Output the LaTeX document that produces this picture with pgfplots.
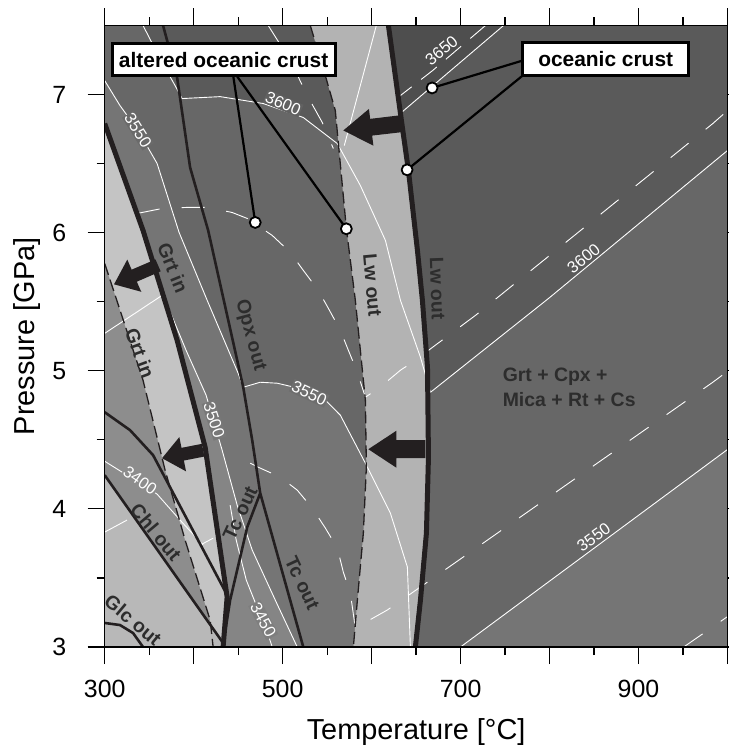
\documentclass[border=0pt]{standalone}
\usepackage{fontspec}
\setmainfont{Liberation Sans}
\usepackage{pgfplots}
\pgfplotsset{compat=1.18}

\definecolor{basegray}{HTML}{858585}
\definecolor{medgray}{HTML}{8D8D8D}
\definecolor{grtband}{HTML}{C4C4C4}
\definecolor{lowleft}{HTML}{B8B8B8}
\definecolor{lwband}{HTML}{B3B3B3}
\definecolor{inkline}{HTML}{231F20}
\definecolor{labelink}{HTML}{2D2D2D}

\newcommand{\cfont}{\fontsize{16.5}{18}\selectfont}
\newcommand{\pfont}{\bfseries\fontsize{19.5}{23}\selectfont}

\begin{document}
\begin{tikzpicture}
\useasboundingbox (-104.7bp,-102bp) rectangle (624.3bp,647bp);
\begin{axis}[
  at={(0,0)}, anchor=south west,
  scale only axis, width=622.8bp, height=621.5bp,
  xmin=300, xmax=1000, ymin=3, ymax=7.5,
  axis on top,
  axis line style={line width=1.3bp, black},
  tick align=outside,
  major tick length=17bp, minor tick length=8bp,
  tick style={line width=1.2bp, black},
  xtick={300,400,...,1000},
  xticklabels={300,,500,,700,,900,},
  minor xtick={350,450,...,950},
  ytick={3,4,5,6,7},
  minor ytick={3.5,4.5,5.5,6.5},
  /pgf/number format/assume math mode=true,
  tick label style={font=\fontsize{25}{28}\selectfont},
  xticklabel style={yshift=-13bp},
  yticklabel style={xshift=-18bp},
  xlabel={Temperature [°C]},
  ylabel={Pressure [GPa]},
  label style={font=\fontsize{29}{33}\selectfont},
  xlabel style={at={(axis description cs:0.5,-0.137)}, anchor=center},
  ylabel style={at={(axis description cs:-0.1252,0.5)}, anchor=center},
]

% ---------- density bands (darker = denser) ----------
\addplot[draw=none, fill=basegray] coordinates {(300,3) (1000,3) (1000,7.5) (300,7.5)} -- cycle;
% rho > 3500
\addplot[draw=none, fill=black, fill opacity=0.113] coordinates {
 (300,7.5) (1000,7.5) (1000,3) (516.4,3) (491.7,3.340) (465.8,3.702) (448.9,4.027)
 (432.0,4.425) (414.0,4.823) (391.5,5.148) (364.5,5.568) (343.1,6.016) (300,6.790)} -- cycle;
% rho > 3550
\addplot[draw=none, fill=black, fill opacity=0.119] coordinates {
 (300,7.5) (300,7.101) (317.2,6.920) (337.5,6.740) (358.9,6.501) (383.6,6.002) (415.2,5.510)
 (450.0,4.982) (455.7,4.881) (474.8,4.917) (493.9,4.910) (527.7,4.859) (548.0,4.787)
 (564.9,4.678) (593.0,4.331) (621.1,3.969) (640.2,3.579) (643.6,3.0) (699.9,3.0)
 (1000,4.43) (1000,7.5)} -- cycle;
% rho > 3600
\addplot[draw=none, fill=black, fill opacity=0.125] coordinates {
 (343.1,7.5) (362.2,7.260) (379.1,7.065) (387.0,6.971) (429.8,6.985) (478.2,6.935)
 (523.2,6.834) (561.5,6.645) (587.3,6.342) (615.5,5.944) (632.4,5.510) (654.9,5.098)
 (666.1,4.844) (798.9,5.524) (1000,6.595) (1000,7.5)} -- cycle;
% rho > 3650
\addplot[draw=none, fill=black, fill opacity=0.132] coordinates {
 (618.9,7.5) (748.3,7.5) (633.5,6.870)} -- cycle;

% ---------- light phase fields ----------
\addplot[draw=none, fill=medgray] coordinates {
 (300,5.777) (343.1,4.931) (367.9,4.280) (390.4,3.774) (418.5,3.195) (421.9,3.0) (300,3.0)} -- cycle;
\addplot[draw=none, fill=grtband] coordinates {
 (300,6.790) (343.1,6.016) (381.4,5.221) (412.9,4.447) (437.6,3.362) (433.1,3.0) (421.9,3.0)
 (418.5,3.195) (390.4,3.774) (367.9,4.280) (343.1,4.931) (300,5.777)} -- cycle;
\addplot[draw=none, fill=lowleft] coordinates {
 (300,4.244) (433.1,3.029) (433.1,3.0) (300,3.0)} -- cycle;
\addplot[draw=none, fill=lwband] coordinates {
 (531.1,7.5) (548.0,7.137) (559.2,6.884) (571.6,6.031) (581.7,5.510) (593.0,4.787)
 (594.1,4.302) (590.7,3.825) (584.0,3.340) (579.5,3.0) (649.2,3.0) (654.9,3.340)
 (661.6,3.825) (663.9,4.374) (662.8,5.025) (657.1,5.510) (651.5,5.872) (641.4,6.450)
 (634.6,6.761) (618.9,7.5)} -- cycle;

% ---------- density contours (white) ----------
\pgfplotsset{every axis plot/.append style={line join=round}}
\addplot[white, line width=0.9bp] coordinates {
 (343.1,7.5) (362.2,7.260) (379.1,7.065) (387.0,6.971) (429.8,6.985) (478.2,6.935)
 (523.2,6.834) (561.5,6.645) (587.3,6.342) (615.5,5.944) (632.4,5.510) (654.9,5.098)
 (666.1,4.844) (798.9,5.524) (1000,6.595)};
\addplot[white, line width=0.9bp] coordinates {
 (300,7.101) (317.2,6.920) (337.5,6.740) (358.9,6.501) (383.6,6.002) (415.2,5.510)
 (450.0,4.982) (455.7,4.881) (474.8,4.917) (493.9,4.910) (527.7,4.859) (548.0,4.787)
 (564.9,4.678) (593.0,4.331) (621.1,3.969) (640.2,3.579) (643.6,3.0)};
\addplot[white, line width=0.9bp] coordinates {(699.9,3.0) (1000,4.43)};
\addplot[white, line width=0.9bp] coordinates {(748.3,7.5) (633.5,6.870)};
\addplot[white, line width=0.9bp] coordinates {
 (364.5,5.568) (391.5,5.148) (414.0,4.823) (432.0,4.425) (448.9,4.027) (465.8,3.702)
 (491.7,3.340) (516.4,3.0)};
\addplot[white, line width=0.9bp] coordinates {
 (441.0,4.027) (447.8,3.774) (459.1,3.485) (470.3,3.304) (478.2,3.195) (488.3,3.0)};
\addplot[white, line width=0.9bp] coordinates {
 (300,4.345) (358.9,4.107) (384.7,3.919) (410.6,3.738)};
\addplot[white, line width=0.9bp] coordinates {(300,3.832) (325.1,3.919)};
\addplot[white, line width=0.9bp] coordinates {(407.3,3.738) (421.9,3.788)};
\addplot[white, line width=0.9bp] coordinates {(300,5.271) (364.5,5.546)};
\addplot[white, line width=0.9bp] coordinates {(605.3,7.5) (569.3,6.631)};
% intermediate contours
\addplot[white, line width=0.9bp, dash pattern=on 23bp off 22bp] coordinates {
 (336.4,6.139) (364.5,6.175) (392.6,6.183) (416.3,6.183) (443.3,6.146) (460.2,6.103)
 (488.3,5.980) (508.6,5.857) (523.2,5.727) (540.1,5.582) (551.4,5.452) (564.9,5.293)
 (573.9,5.148) (584.0,4.989) (593.0,4.808) (612.1,4.895) (632.4,5.004) (652.6,5.090)
 (663.9,5.148) (716.7,5.401) (983.5,6.790) (1000,6.884)};
\addplot[white, line width=0.9bp, dash pattern=on 23bp off 22bp] coordinates {
 (463.5,4.331) (472.5,4.302) (497.3,4.230) (516.4,4.136) (533.4,4.005) (548.0,3.861)
 (561.5,3.716) (568.2,3.542) (576.1,3.391) (581.7,3.137) (617.7,3.268) (662.8,3.470)
 (983.5,4.917) (1000,4.996)};
\addplot[white, line width=0.9bp, dash pattern=on 23bp off 22bp] coordinates {(950.8,3.0) (1000,3.22)};
\addplot[white, line width=0.9bp, dash pattern=on 23bp off 22bp] coordinates {
 (483.8,7.5) (508.6,7.246) (527.7,6.993) (544.6,6.797) (557.0,6.609)};
\addplot[white, line width=0.9bp, dash pattern=on 20bp off 12bp] coordinates {
 (728.0,7.5) (668.4,7.173) (632.4,6.993)};

% contour labels
\begin{scope}[every node/.style={text=white, font=\cfont, inner sep=1pt}]
\node[rotate=39] at (axis cs:838.3,5.814) {3600};
\node[rotate=36] at (axis cs:849.6,3.796) {3550};
\node[rotate=40] at (axis cs:678.5,7.318) {3650};
\node[rotate=-23, fill={rgb,255:red,97;green,97;blue,97}] at (axis cs:500.6,6.935) {3600};
\node[rotate=-25, fill={rgb,255:red,110;green,110;blue,110}] at (axis cs:529.9,4.837) {3550};
\node[rotate=-58, fill={rgb,255:red,106;green,106;blue,106}] at (axis cs:337.5,6.740) {3550};
\node[rotate=-72, fill={rgb,255:red,120;green,120;blue,120}] at (axis cs:423.0,4.642) {3500};
\node[rotate=-62, fill={rgb,255:red,126;green,126;blue,126}] at (axis cs:478.2,3.195) {3450};
\node[rotate=-35, fill=medgray] at (axis cs:339.7,4.205) {3400};
\end{scope}

% ---------- phase boundaries ----------
% Opx out / Tc out
\addplot[inkline, line width=2.6bp] coordinates {
 (365.6,7.5) (381.4,7.123) (396.0,6.472) (416.3,6.016) (455.7,4.881) (465.8,4.497)
 (474.8,4.114) (523.2,3.0)};
\addplot[inkline, line width=2.6bp] coordinates {
 (474.8,4.114) (460.2,3.868) (441.0,3.340) (433.1,3.014)};
% Chl out
\addplot[inkline, line width=2.6bp] coordinates {(300,4.244) (433.1,3.029)};
\addplot[inkline, line width=2.6bp] coordinates {
 (300,4.700) (328.5,4.570) (354.4,4.389) (438.8,3.362)};
% Glc out
\addplot[inkline, line width=2.6bp] coordinates {
 (300,3.174) (317.2,3.159) (331.9,3.101) (343.1,3.0)};
% altered oceanic crust: Grt in, Lw out (dashed)
\addplot[inkline, line width=1.3bp, dash pattern=on 12bp off 5bp] coordinates {
 (300,5.777) (343.1,4.931) (367.9,4.280) (390.4,3.774) (418.5,3.195) (421.9,3.0)};
\addplot[inkline, line width=1.3bp, dash pattern=on 12bp off 5bp] coordinates {
 (531.1,7.5) (548.0,7.137) (559.2,6.884) (571.6,6.031) (581.7,5.510) (593.0,4.787)
 (594.1,4.302) (590.7,3.825) (584.0,3.340) (579.5,3.0)};
% oceanic crust: Grt in, Lw out (thick)
\addplot[inkline, line width=5bp] coordinates {
 (300,6.790) (343.1,6.016) (381.4,5.221) (412.9,4.447) (437.6,3.362) (433.1,3.0)};
\addplot[inkline, line width=5bp] coordinates {
 (618.9,7.5) (634.6,6.761) (641.4,6.450) (651.5,5.872) (657.1,5.510) (662.8,5.025)
 (663.9,4.374) (661.6,3.825) (654.9,3.340) (649.2,3.0)};

% ---------- shift arrows ----------
\addplot[draw=none, fill=inkline] coordinates {
 (357.1,5.806) (330.3,5.732) (325.4,5.805) (310.5,5.626) (341.1,5.572) (336.1,5.645) (362.9,5.720)} -- cycle;
\addplot[draw=none, fill=inkline] coordinates {
 (409.3,4.471) (386.3,4.442) (383.9,4.520) (364.5,4.367) (391.4,4.272) (389.0,4.350) (412.0,4.379)} -- cycle;
\addplot[draw=none, fill=inkline] coordinates {
 (633.5,6.851) (598.4,6.824) (597.0,6.896) (568.2,6.740) (602.0,6.630) (600.6,6.703) (635.7,6.729)} -- cycle;
\addplot[draw=none, fill=inkline] coordinates {
 (660.5,4.497) (627.9,4.497) (627.9,4.566) (596.3,4.432) (627.9,4.298) (627.9,4.367) (660.5,4.367)} -- cycle;

% ---------- phase labels ----------
\begin{scope}[every node/.style={text=labelink, font=\pfont, inner sep=0pt}]
\node[rotate=-68] at (axis cs:376.8,5.748) {Grt in};
\node[rotate=-70] at (axis cs:339.7,5.127) {Grt in};
\node[rotate=-75] at (axis cs:463.5,5.257) {Opx out};
\node[rotate=65] at (axis cs:452.3,3.969) {Tc out};
\node[rotate=-65] at (axis cs:522.1,3.463) {Tc out};
\node[rotate=-50] at (axis cs:357.7,3.832) {Chl out};
\node[rotate=-40] at (axis cs:331.9,3.195) {Glc out};
\node[rotate=-85] at (axis cs:600.9,5.618) {Lw out};
\node[rotate=-88] at (axis cs:674.0,5.597) {Lw out};
\node[anchor=west, align=left] at (axis cs:747.2,4.877) {Grt + Cpx +\\[2bp]Mica + Rt + Cs};
\end{scope}

% ---------- callouts ----------
\addplot[black, line width=2.2bp] coordinates {(444.6,7.130) (469.2,6.074)};
\addplot[black, line width=2.2bp] coordinates {(449.0,7.130) (571.6,6.028)};
\addplot[black, line width=2.2bp] coordinates {(769.7,7.246) (668.0,7.048)};
\addplot[black, line width=2.2bp] coordinates {(769.7,7.137) (639.9,6.455)};
\node[draw=black, line width=3bp, fill=white, inner sep=0pt, minimum width=223bp,
      minimum height=32bp, font=\bfseries\fontsize{21}{24}\selectfont]
      at (axis cs:433.7,7.253) {altered oceanic crust};
\node[draw=black, line width=3bp, fill=white, inner sep=0pt, minimum width=166bp,
      minimum height=33bp, font=\bfseries\fontsize{21}{24}\selectfont]
      at (axis cs:863.1,7.257) {oceanic crust};
\addplot[only marks, mark=*, mark size=5.5bp,
  mark options={fill=white, draw=black, line width=1.8bp}] coordinates {
 (469.2,6.074) (571.6,6.028) (668.0,7.048) (639.9,6.455)};

\end{axis}
\end{tikzpicture}
\end{document}
